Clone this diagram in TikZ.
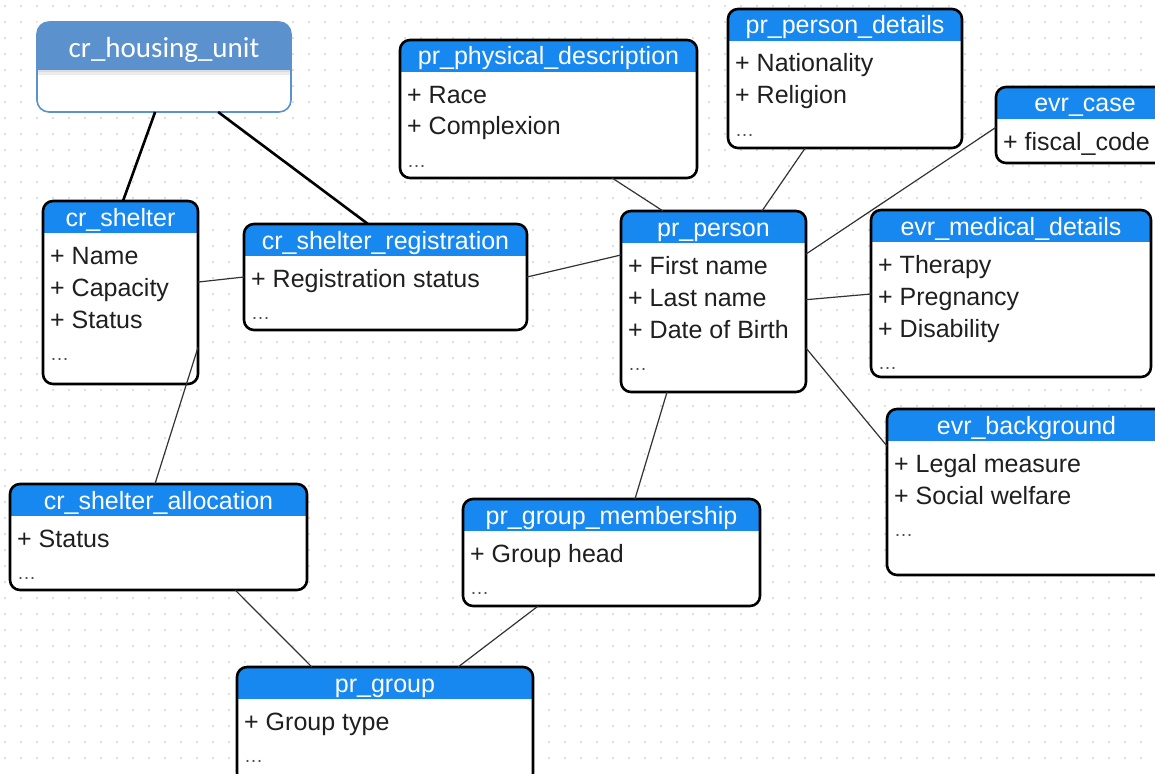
\documentclass[tikz,border=0pt]{standalone}
\usepackage{fontspec}
\setmainfont{Liberation Sans}
\newfontfamily\carl{Carlito}
\usetikzlibrary{calc}
\definecolor{hdrblue}{RGB}{22,136,240}
\definecolor{steel}{RGB}{91,146,206}
\definecolor{gridgray}{RGB}{222,222,222}
\tikzset{
  umlbody/.style={fill=white, inner sep=0pt, outer sep=0pt, anchor=north west},
  boxline/.style={draw=black, line width=2.6pt, rounded corners=10pt},
  titletext/.style={text=white, font=\fontsize{25}{28}\selectfont, inner sep=0pt, anchor=base},
  itemtext/.style={text=black!88, font=\fontsize{25}{28}\selectfont, inner sep=0pt},
  conn/.style={draw=black!80, line width=1.2pt},
  thickconn/.style={draw=black, line width=2.6pt},
  dotgrid/.style={draw=gridgray, line width=1.6pt, dash pattern=on 1.6pt off 14.4pt}
}
\newcommand{\dotsitem}{{\color{black!70}\fontsize{19}{19}\selectfont …}}
\newcommand{\UMLbox}[7]{%
  \node[umlbody, minimum width={(#4-#2)*1pt}, minimum height={(#5-#3)*1pt}] (#1) at (#2,#3) {};
  \begin{scope}
    \clip[rounded corners=10pt] (#1.north west) rectangle (#1.south east);
    \fill[hdrblue] (#1.north west) rectangle ([yshift=-32pt]#1.north east);
  \end{scope}
  \draw[boxline] (#1.north west) rectangle (#1.south east);
  \node[titletext] (#1-title) at ([yshift=-25pt]#1.north) {#6};
  \foreach \itm [count=\i] in {#7} {
    \node[itemtext, anchor=base west] (#1-item-\i) at ([xshift=7pt, yshift={-63pt-(\i-1)*32pt}]#1.north west) {\itm};
  }
}
\begin{document}
\begin{tikzpicture}[x=1pt,y=-1pt]
\useasboundingbox (0,0) rectangle (1155,773);
\clip (0,0) rectangle (1155,773);
\fill[white] (0,0) rectangle (1155,773);
\foreach \yy in {6,22,...,773} { \draw[dotgrid] (4,\yy) -- (1155,\yy); }

% housing unit
\node[umlbody, minimum width=254pt, minimum height=90pt] (hu) at (37,22) {};
\begin{scope}
  \clip[rounded corners=12pt] (hu.north west) rectangle (hu.south east);
  \fill[black!8] (hu.north west) rectangle ([yshift=-53pt]hu.north east);
  \fill[black!14] (hu.north west) rectangle ([yshift=-50pt]hu.north east);
  \fill[steel] (hu.north west) rectangle ([yshift=-48pt]hu.north east);
\end{scope}
\draw[steel, line width=1.6pt, rounded corners=12pt] (hu.north west) rectangle (hu.south east);
\node[text=white, font=\carl\fontsize{29}{32}\selectfont, inner sep=0pt, anchor=base] (hu-title) at ([yshift=-36pt]hu.north) {cr\_housing\_unit};

\UMLbox{cs}{43}{201}{198}{384}{cr\_shelter}{+ Name, + Capacity, + Status, \dotsitem}
\UMLbox{csr}{244}{224}{527}{330}{cr\_shelter\_registration}{+ Registration status, \dotsitem}
\UMLbox{ppd}{400}{40}{697}{178}{pr\_physical\_description}{+ Race, + Complexion, \dotsitem}
\UMLbox{pd}{728}{9}{962}{148}{pr\_person\_details}{+ Nationality, + Religion, \dotsitem}
\UMLbox{ec}{996}{87}{1174}{163}{evr\_case}{+ fiscal\_code}
\UMLbox{pp}{621}{211}{806}{392}{pr\_person}{+ First name, + Last name, + Date of Birth, \dotsitem}
\UMLbox{emd}{871}{210}{1151}{377}{evr\_medical\_details}{+ Therapy, + Pregnancy, + Disability, \dotsitem}
\UMLbox{eb}{887}{409}{1166}{575}{evr\_background}{+ Legal measure, + Social welfare, \dotsitem}
\UMLbox{csa}{10}{484}{307}{590}{cr\_shelter\_allocation}{+ Status, \dotsitem}
\UMLbox{pgm}{463}{499}{760}{606}{pr\_group\_membership}{+ Group head, \dotsitem}
\UMLbox{pg}{237}{667}{533}{783}{pr\_group}{+ Group type, \dotsitem}

% connectors
\draw[thickconn] ($(hu.south west)!0.465!(hu.south east)$) -- ($(cs.north west)!0.516!(cs.north east)$);
\draw[thickconn] ($(hu.south west)!0.713!(hu.south east)$) -- ($(csr.north west)!0.438!(csr.north east)$);
\draw[conn] ($(cs.north east)!0.443!(cs.south east)$) -- ($(csr.north west)!0.5!(csr.south west)$);
\draw[conn] ($(cs.north east)!0.80!(cs.south east)$) -- ($(csa.north west)!0.488!(csa.north east)$);
\draw[conn] ($(csr.north east)!0.5!(csr.south east)$) -- ($(pp.north west)!0.243!(pp.south west)$);
\draw[conn] ($(ppd.south west)!0.714!(ppd.south east)$) -- ($(pp.north west)!0.227!(pp.north east)$);
\draw[conn] ($(pd.south west)!0.33!(pd.south east)$) -- ($(pp.north west)!0.762!(pp.north east)$);
\draw[conn] ($(ec.north west)!0.53!(ec.south west)$) -- ($(pp.north east)!0.238!(pp.south east)$);
\draw[conn] ($(emd.north west)!0.503!(emd.south west)$) -- ($(pp.north east)!0.49!(pp.south east)$);
\draw[conn] ($(pp.north east)!0.757!(pp.south east)$) -- ($(eb.north west)!0.223!(eb.south west)$);
\draw[conn] ($(pp.south west)!0.249!(pp.south east)$) -- ($(pgm.north west)!0.579!(pgm.north east)$);
\draw[conn] ($(pgm.south west)!0.253!(pgm.south east)$) -- ($(pg.north west)!0.747!(pg.north east)$);
\draw[conn] ($(csa.south west)!0.758!(csa.south east)$) -- ($(pg.north west)!0.253!(pg.north east)$);
\end{tikzpicture}
\end{document}
